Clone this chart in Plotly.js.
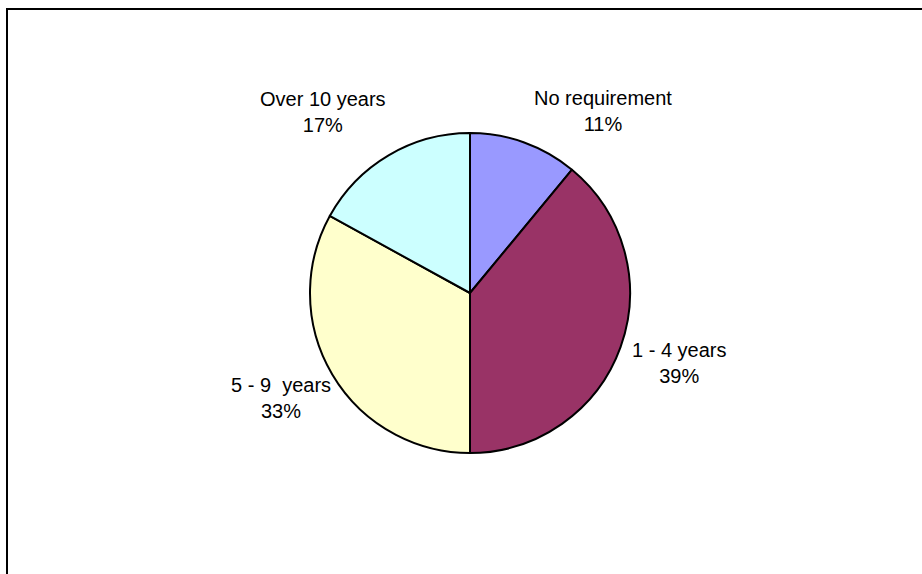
<!DOCTYPE html>
<html>
<head>
<meta charset="utf-8">
<script src="https://cdn.plot.ly/plotly-3.0.1.min.js"></script>
<style>
  html, body { margin: 0; padding: 0; background: #fff; }
  #wrap { position: relative; width: 922px; height: 574px; overflow: hidden; }
  #chart { width: 922px; height: 574px; }
  #frame { position: absolute; left: 6px; top: 8px; width: 940px; height: 600px;
           border-left: 2px solid #000; border-top: 2px solid #000; pointer-events: none; }
</style>
</head>
<body>
<div id="wrap">
  <div id="chart"></div>
  <div id="frame"></div>
</div>
<script>
const categories = ['No requirement', '1 - 4 years', '5 - 9\u00a0 years', 'Over 10 years'];
const values = [11, 39, 33, 17];
const colors = ['#9999FF', '#993366', '#FFFFCC', '#CCFFFF'];
// label block centres (paper fraction of the pie domain), as Excel placed them
const labelX = [0.915, 1.153, -0.09, 0.041];
const labelY = [1.070, 0.281, 0.172, 1.066];

const total = values.reduce((a, b) => a + b, 0);

const trace = {
  type: 'pie',
  labels: categories,
  values: values,
  sort: false,
  direction: 'clockwise',
  rotation: 0,
  marker: { colors: colors, line: { color: '#000', width: 2 } },
  textinfo: 'none',
  hoverinfo: 'none',
  showlegend: false,
  automargin: false
};

const annotations = categories.map((c, i) => ({
  xref: 'paper', yref: 'paper',
  x: labelX[i], y: labelY[i],
  xanchor: 'center', yanchor: 'middle',
  showarrow: false,
  align: 'center',
  text: c + '<br>' + Math.round(values[i] / total * 100) + '%',
  font: { family: 'Liberation Sans, Arial, sans-serif', size: 20, color: '#000' }
}));

const layout = {
  width: 922,
  height: 574,
  margin: { l: 310, r: 292, t: 133, b: 121, pad: 0 },
  paper_bgcolor: '#fff',
  plot_bgcolor: '#fff',
  showlegend: false,
  annotations: annotations
};

Plotly.newPlot('chart', [trace], layout, { staticPlot: true, displayModeBar: false });
</script>
</body>
</html>
